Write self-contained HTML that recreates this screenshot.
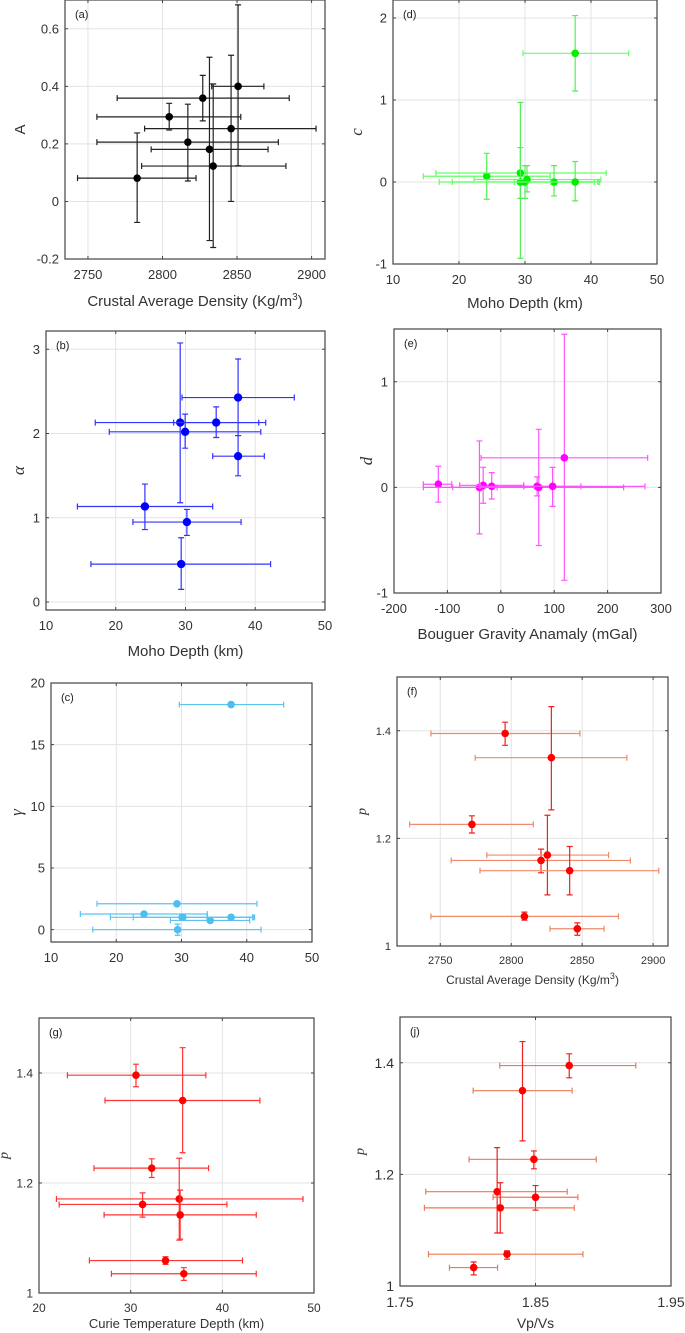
<!DOCTYPE html>
<html><head><meta charset="utf-8">
<style>
html,body{margin:0;padding:0;background:#fff;}
svg{display:block;font-family:"Liberation Sans",sans-serif;}
</style></head>
<body>
<svg id="fig" width="685" height="1333" viewBox="0 0 685 1333" xmlns="http://www.w3.org/2000/svg"></svg>
<script>
// ---- Panel (a): A vs crustal density ----
const aX=[2783,2804.5,2817,2827,2831.5,2834,2846,2850.7];
const aY=[0.081,0.294,0.206,0.359,0.181,0.123,0.253,0.40];
const aXlo=[2743,2756,2756,2769.6,2792.4,2786,2788,2833];
const aXhi=[2822.5,2852.5,2877.7,2885,2870.8,2882.8,2903,2868];
const aYlo=[-0.073,0.248,0.071,0.28,-0.136,-0.16,0,0.124];
const aYhi=[0.238,0.341,0.338,0.438,0.501,0.408,0.508,0.683];
const aXt=[2750,2800,2850,2900]; const aYt=[-0.2,0,0.2,0.4,0.6];
// ---- Panel (b): alpha vs Moho depth ----
const bX=[24.18,29.24,29.95,34.4,37.54,37.54,30.2,29.38];
const bY=[1.134,2.13,2.02,2.13,2.427,1.731,0.949,0.45];
const bXlo=[14.5,17.06,19.07,28.3,29.5,33.9,22.46,16.44];
const bXhi=[33.9,40.5,40.8,41.5,45.6,41.3,37.97,42.2];
const bYlo=[0.86,1.178,1.826,1.953,1.976,1.498,0.79,0.15];
const bYhi=[1.4,3.075,2.23,2.316,2.885,1.976,1.099,0.763];
const bXt=[10,20,30,40,50]; const bYt=[0,1,2,3];
// ---- Panel (c): gamma vs Moho depth ----
const cX=[37.6,29.3,24.25,30.1,30.2,34.4,37.6,29.4];
const cY=[18.25,2.1,1.27,1.0,1.0,0.75,1.0,0.0];
const cXlo=[29.67,17.05,14.5,19.1,22.6,28.3,33.9,16.4];
const cXhi=[45.66,41.57,33.96,40.9,41.0,40.45,41.2,42.2];
const cYlo=[18.1,2.0,1.17,0.9,0.9,0.65,0.9,-0.45];
const cYhi=[18.4,2.2,1.37,1.1,1.1,0.85,1.1,0.45];
const cXt=[10,20,30,40,50]; const cYt=[0,5,10,15,20];
// ---- Panel (d): c vs Moho depth ----
const dX=[37.6,24.2,29.3,29.3,30.0,30.3,34.4,37.6];
const dY=[1.57,0.07,0.11,0.0,0.0,0.03,0.0,0.0];
const dXlo=[29.7,14.6,16.5,17.0,19.0,22.3,28.4,33.9];
const dXhi=[45.7,33.8,42.3,41.2,41.0,41.5,40.5,41.3];
const dYlo=[1.11,-0.21,-0.93,-0.2,-0.2,-0.12,-0.17,-0.23];
const dYhi=[2.03,0.35,0.97,0.42,0.2,0.2,0.2,0.25];
const dXt=[10,20,30,40,50]; const dYt=[-1,0,1,2];
// ---- Panel (e): d vs Bouguer gravity ----
const eX=[-117,-40,-33,-17,68,71,97,119];
const eY=[0.03,0.0,0.02,0.01,0.01,0.0,0.01,0.28];
const eXlo=[-145,-145,-77,-38,-40,-90,43,-37];
const eXhi=[-92,-7,43,43,150,230,270,275];
const eYlo=[-0.14,-0.44,-0.15,-0.11,-0.08,-0.55,-0.18,-0.88];
const eYhi=[0.2,0.44,0.19,0.14,0.1,0.55,0.19,1.45];
const eXt=[-200,-100,0,100,200,300]; const eYt=[-1,0,1];
// ---- Panel (f): p vs crustal density ----
const fX=[2772.3,2795.7,2809.3,2821,2825.5,2828.3,2841.2,2846.6];
const fY=[1.226,1.395,1.055,1.159,1.169,1.35,1.14,1.032];
const fXlo=[2728.4,2743.4,2743.4,2757.7,2782.8,2774.6,2778,2827.3];
const fXhi=[2815.6,2848.4,2875.6,2884,2868.6,2881.5,2904,2865.5];
const fYlo=[1.21,1.373,1.048,1.136,1.095,1.253,1.095,1.02];
const fYhi=[1.242,1.416,1.063,1.18,1.243,1.445,1.185,1.043];
const fXt=[2750,2800,2850,2900]; const fYt=[1,1.2,1.4];
// ---- Panel (g): p vs Curie depth ----
const gX=[30.58,35.67,32.3,35.3,31.3,35.4,33.8,35.8];
const gY=[1.396,1.35,1.227,1.171,1.161,1.142,1.059,1.035];
const gXlo=[23.1,27.2,26.0,21.9,22.2,27.1,25.5,27.9];
const gXhi=[38.2,44.1,38.5,48.8,40.5,43.7,42.2,43.7];
const gYlo=[1.375,1.255,1.21,1.096,1.138,1.098,1.052,1.023];
const gYhi=[1.416,1.446,1.244,1.245,1.182,1.187,1.066,1.046];
const gXt=[20,30,40,50]; const gYt=[1,1.2,1.4];
// ---- Panel (j): p vs Vp/Vs ----
const jX=[1.8749,1.8404,1.8488,1.8217,1.85,1.824,1.829,1.8044];
const jY=[1.395,1.35,1.227,1.169,1.159,1.14,1.057,1.033];
const jXlo=[1.8236,1.804,1.801,1.769,1.8187,1.768,1.771,1.7865];
const jXhi=[1.924,1.877,1.8948,1.8734,1.8813,1.8786,1.885,1.822];
const jYlo=[1.373,1.26,1.21,1.095,1.136,1.095,1.048,1.02];
const jYhi=[1.416,1.438,1.242,1.248,1.18,1.185,1.063,1.043];
const jXt=[1.75,1.85,1.95]; const jYt=[1,1.2,1.4];

const NS="http://www.w3.org/2000/svg";
const svg=document.getElementById('fig');
function mk(tag,attrs,parent){const e=document.createElementNS(NS,tag);for(const k in attrs)e.setAttribute(k,attrs[k]);(parent||svg).appendChild(e);return e;}

function panel(p){
  const g=mk('g',{});
  
  
  const sx=v=>p.L+(v-p.xmin)/(p.xmax-p.xmin)*(p.R-p.L);
  const sy=v=>p.B-(v-p.ymin)/(p.ymax-p.ymin)*(p.B-p.T);
  p.xt.forEach(v=>{const l=mk('line',{x1:sx(v),x2:sx(v),y1:p.T,y2:p.B,stroke:'#e3e3e3','stroke-width':1},g);
    });
  p.yt.forEach(v=>{const l=mk('line',{x1:p.L,x2:p.R,y1:sy(v),y2:sy(v),stroke:'#e3e3e3','stroke-width':1},g);
    });
  const cap=3;
  for(let i=0;i<p.x.length;i++){
    const px=sx(p.x[i]),py=sy(p.y[i]);
    const eg=mk('g',{},g);
    
    
    const x1=sx(p.xlo[i]),x2=sx(p.xhi[i]);
    mk('path',{d:`M${x1},${py}H${x2}M${x1},${py-cap}V${py+cap}M${x2},${py-cap}V${py+cap}`,stroke:p.xc,'stroke-width':1.2,fill:'none'},eg);
    const y1=sy(p.ylo[i]),y2=sy(p.yhi[i]);
    mk('path',{d:`M${px},${y1}V${y2}M${px-cap},${y1}H${px+cap}M${px-cap},${y2}H${px+cap}`,stroke:p.yc,'stroke-width':1.2,fill:'none'},eg);
    mk('circle',{cx:px,cy:py,r:p.r||3.8,fill:p.mc},eg);
  }
  const b=mk('rect',{x:p.L,y:p.T,width:p.R-p.L,height:p.B-p.T,fill:'none',stroke:'#444','stroke-width':1.2},g);
  
  p.xt.forEach(v=>{mk('path',{d:`M${sx(v)},${p.B}v-3M${sx(v)},${p.T}v3`,stroke:'#444'},g);
    const t=mk('text',{x:sx(v),y:p.B+p.fs+7,'font-size':p.fs,'text-anchor':'middle',fill:'#333'},g);
    t.textContent=p.fmtx?p.fmtx(v):String(v);
    });
  p.yt.forEach(v=>{mk('path',{d:`M${p.L},${sy(v)}h3M${p.R},${sy(v)}h-3`,stroke:'#444'},g);
    const t=mk('text',{x:p.L-6,y:sy(v)+p.fs*0.36,'font-size':p.fs,'text-anchor':'end',fill:'#333'},g);
    t.textContent=p.fmty?p.fmty(v):String(v);
    });
  const lt=mk('text',{x:p.L+10,y:p.T+18,'font-size':11,fill:'#222'},g);
  lt.textContent='('+p.id+')';
  
  if(p.xl){const t=mk('text',{x:(p.L+p.R)/2,y:p.xly,'font-size':p.xfs||15,'text-anchor':'middle',fill:'#333'},g);
    t.innerHTML=p.xl;
    }
  const yl=mk('text',{x:p.ylx,y:(p.T+p.B)/2,'font-size':p.yfs||15,'text-anchor':'middle',fill:'#333','font-style':p.yi?'italic':'normal','font-family':p.yi?'"Liberation Serif",serif':'"Liberation Sans",sans-serif',transform:`rotate(-90 ${p.ylx} ${(p.T+p.B)/2})`},g);
  yl.textContent=p.yl;
  
}
const f1=v=>v.toFixed(1).replace(/\.0$/,'');
panel({id:'a',L:65,R:325,T:0,B:259,xmin:2734.6,xmax:2909,ymin:-0.2,ymax:0.7,x:aX,y:aY,xlo:aXlo,xhi:aXhi,ylo:aYlo,yhi:aYhi,xt:aXt,yt:aYt,
  fmty:v=>v===0?'0':f1(v),fs:13,xc:'#222',yc:'#222',mc:'#000',xl:'Crustal Average Density (Kg/m<tspan dy="-6" font-size="10">3</tspan><tspan dy="6">)</tspan>',xly:306,yl:'A',ylx:25});
panel({id:'d',L:393,R:657,T:0,B:264,xmin:10,xmax:50,ymin:-1,ymax:2.22,x:dX,y:dY,xlo:dXlo,xhi:dXhi,ylo:dYlo,yhi:dYhi,xt:dXt,yt:dYt,
  fs:13,xc:'#66ff66',yc:'#55ee55',mc:'#00ee00',xl:'Moho Depth (km)',xly:308,yl:'c',ylx:362,yi:true,yfs:17});
panel({id:'b',L:46,R:325,T:331,B:610,xmin:10,xmax:50,ymin:-0.095,ymax:3.217,x:bX,y:bY,xlo:bXlo,xhi:bXhi,ylo:bYlo,yhi:bYhi,xt:bXt,yt:bYt,
  fs:13,xc:'#3333ff',yc:'#3333ff',mc:'#0000ff',r:4.2,xl:'Moho Depth (km)',xly:656,yl:'α',ylx:24,yi:true,yfs:17});
panel({id:'e',L:394,R:661,T:329,B:593,xmin:-200,xmax:300,ymin:-1,ymax:1.5,x:eX,y:eY,xlo:eXlo,xhi:eXhi,ylo:eYlo,yhi:eYhi,xt:eXt,yt:eYt,
  fs:13,xc:'#ff55ff',yc:'#ff55ff',mc:'#ff00ff',xl:'Bouguer Gravity Anamaly (mGal)',xly:639,yl:'d',ylx:372,yi:true,yfs:17});
panel({id:'c',L:51,R:312,T:683,B:942,xmin:10,xmax:50,ymin:-1,ymax:20,x:cX,y:cY,xlo:cXlo,xhi:cXhi,ylo:cYlo,yhi:cYhi,xt:cXt,yt:cYt,
  fs:13,xc:'#5cc3ef',yc:'#5cc3ef',mc:'#4dbeee',xl:'',yl:'γ',ylx:22,yi:true,yfs:17});
panel({id:'f',L:397,R:668,T:677,B:946,xmin:2719.5,xmax:2910.5,ymin:1,ymax:1.5,x:fX,y:fY,xlo:fXlo,xhi:fXhi,ylo:fYlo,yhi:fYhi,xt:fXt,yt:fYt,
  fmty:v=>v===1?'1':f1(v),fs:11,xc:'#f08a6a',yc:'#ee2222',mc:'#ff0000',xl:'Crustal Average Density (Kg/m<tspan dy="-5" font-size="9">3</tspan><tspan dy="5">)</tspan>',xfs:12,xly:984,yl:'p',ylx:366,yi:true,yfs:14});
panel({id:'g',L:39,R:314,T:1018,B:1293,xmin:20,xmax:50,ymin:1,ymax:1.5,x:gX,y:gY,xlo:gXlo,xhi:gXhi,ylo:gYlo,yhi:gYhi,xt:gXt,yt:gYt,
  fmty:v=>v===1?'1':f1(v),fs:12,xc:'#ff3333',yc:'#ff3333',mc:'#ff0000',xl:'Curie Temperature Depth (km)',xfs:13,xly:1328,yl:'p',ylx:8,yi:true,yfs:14});
panel({id:'j',L:400,R:671,T:1017,B:1286,xmin:1.75,xmax:1.95,ymin:1,ymax:1.482,x:jX,y:jY,xlo:jXlo,xhi:jXhi,ylo:jYlo,yhi:jYhi,xt:jXt,yt:jYt,
  fmtx:v=>v.toFixed(2),fmty:v=>v===1?'1':f1(v),fs:14,xc:'#ec7a55',yc:'#ee2222',mc:'#ff0000',xl:'Vp/Vs',xfs:14,xly:1328,yl:'p',ylx:364,yi:true,yfs:14});
</script>
</body></html>
